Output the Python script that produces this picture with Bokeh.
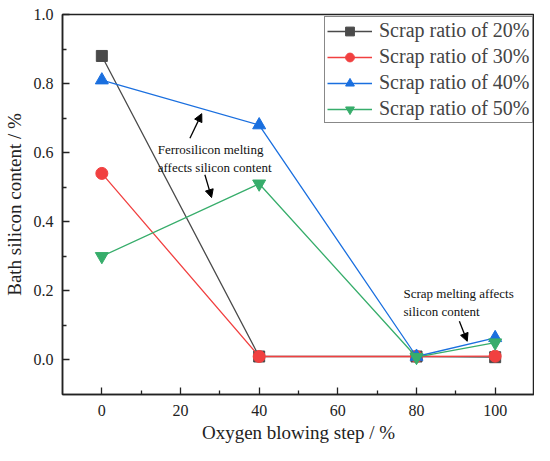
from bokeh.plotting import figure
from bokeh.embed import file_html
from bokeh.resources import INLINE
from bokeh.models import FixedTicker, PrintfTickFormatter, Label, Arrow, NormalHead, Legend

steps = [0, 40, 80, 100]
scrap20 = [0.88, 0.01, 0.01, 0.008]
scrap30 = [0.54, 0.01, 0.01, 0.011]
scrap40 = [0.81, 0.68, 0.01, 0.064]
scrap50 = [0.30, 0.51, 0.008, 0.05]
series_names = ["Scrap ratio of 20%", "Scrap ratio of 30%", "Scrap ratio of 40%", "Scrap ratio of 50%"]
colors = ["#4a4a4a", "#F14040", "#1A6FDF", "#37AD6B"]
markers = ["square", "circle", "triangle", "inverted_triangle"]
sizes = [11, 12, 13, 13]

x_ticks = [0, 20, 40, 60, 80, 100]
x_minor = [10, 30, 50, 70, 90]
y_ticks = [0.0, 0.2, 0.4, 0.6, 0.8, 1.0]
y_minor = [0.1, 0.3, 0.5, 0.7, 0.9]

FONT = "Liberation Serif"

p = figure(width=534, height=445, x_range=(-10, 110), y_range=(-0.1, 1.0),
           output_backend="svg", toolbar_location=None,
           min_border_left=62, min_border_right=0, min_border_top=14, min_border_bottom=48)
p.grid.visible = False
p.outline_line_color = "#222222"
p.outline_line_width = 1.5
p.background_fill_color = "white"
p.border_fill_color = "white"

items = []
for ys, name, c, m, s in zip([scrap20, scrap30, scrap40, scrap50], series_names, colors, markers, sizes):
    r1 = p.line(steps, ys, line_color=c, line_width=1.3)
    r2 = p.scatter(steps, ys, marker=m, size=s, fill_color=c, line_color=c)
    items.append((name, [r1, r2]))

legend = Legend(items=items, location=(262, 271), margin=0,
                label_text_font=FONT, label_text_font_size="20px",
                glyph_width=45, glyph_height=22, label_height=22, label_standoff=7,
                spacing=3, padding=2, border_line_color="#111111", border_line_width=1.5,
                background_fill_alpha=1.0)
p.add_layout(legend)

for ax in (p.xaxis[0], p.yaxis[0]):
    ax.axis_line_color = "#222222"
    ax.axis_line_width = 1.5
    ax.major_tick_in = 7
    ax.major_tick_out = 0
    ax.minor_tick_in = 4
    ax.minor_tick_out = 0
    ax.major_tick_line_color = "#222222"
    ax.minor_tick_line_color = "#222222"
    ax.major_tick_line_width = 1.3
    ax.minor_tick_line_width = 1.3
    ax.major_label_text_font = FONT
    ax.major_label_text_font_size = "16px"
    ax.major_label_text_color = "#222222"
    ax.axis_label_text_font = FONT
    ax.axis_label_text_font_size = "19px"
    ax.axis_label_text_font_style = "normal"
    ax.axis_label_text_color = "#222222"

p.xaxis.ticker = FixedTicker(ticks=x_ticks, minor_ticks=x_minor)
p.yaxis.ticker = FixedTicker(ticks=y_ticks, minor_ticks=y_minor)
p.yaxis.formatter = PrintfTickFormatter(format="%.1f")
p.xaxis.axis_label = "Oxygen blowing step / %"
p.yaxis.axis_label = "Bath silicon content / %"
p.xaxis.major_label_standoff = 10
p.yaxis.major_label_standoff = 9
p.xaxis.axis_label_standoff = 3
p.yaxis.axis_label_standoff = 6

ann_font = dict(text_font=FONT, text_font_size="13px", text_color="#111111")
p.add_layout(Label(x=14.2, y=0.608, text="Ferrosilicon melting", text_baseline="middle", **ann_font))
p.add_layout(Label(x=14.2, y=0.558, text="affects silicon content", text_baseline="middle", **ann_font))
p.add_layout(Label(x=76.7, y=0.192, text="Scrap melting affects", text_baseline="middle", **ann_font))
p.add_layout(Label(x=76.7, y=0.140, text="silicon content", text_baseline="middle", **ann_font))

def arrow(x0, y0, x1, y1):
    p.add_layout(Arrow(end=NormalHead(size=8, fill_color="black", line_color="black"),
                       x_start=x0, y_start=y0, x_end=x1, y_end=y1,
                       line_color="black", line_width=1.3))

arrow(22.4, 0.642, 25.4, 0.713)
arrow(26.2, 0.536, 27.9, 0.47)
arrow(90.9, 0.112, 92.9, 0.054)

open("out.html", "w").write(file_html(p, INLINE))
